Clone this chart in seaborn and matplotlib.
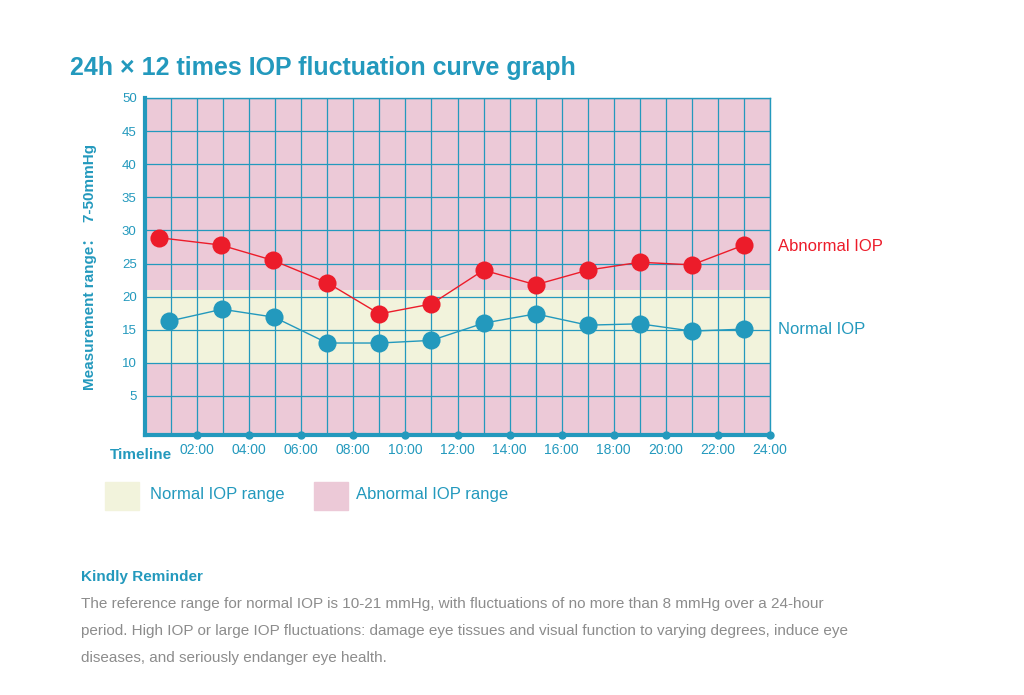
import matplotlib
matplotlib.use("Agg")
import matplotlib.pyplot as plt
import seaborn as sns
import pandas as pd
from matplotlib.patches import Rectangle

sns.set_theme(style="white")
plt.rcParams['font.family'] = ['Liberation Sans', 'Noto Sans CJK SC', 'DejaVu Sans']

abn_hours = [0.55, 2.9, 4.9, 7.0, 9.0, 11.0, 13.0, 15.0, 17.0, 19.0, 21.0, 23.0]
abn_vals = [28.9, 27.8, 25.5, 22.1, 17.4, 18.9, 24.0, 21.8, 24.0, 25.2, 24.8, 27.8]
nor_hours = [0.92, 2.96, 4.96, 7.0, 9.0, 11.0, 13.0, 15.0, 17.0, 19.0, 21.0, 23.0]
nor_vals = [16.3, 18.1, 16.9, 13.0, 13.0, 13.4, 16.0, 17.4, 15.7, 15.9, 14.8, 15.1]
tick_hours = list(range(2, 25, 2))
tick_labels = [f"{h:02d}:00" for h in tick_hours]
y_ticks = list(range(5, 51, 5))

TEAL = "#2399bd"
RED = "#ec1c2a"
PINK = "#ecc9d7"
YEL = "#f2f3dc"
GREY = "#8c8c8c"

fig = plt.figure(figsize=(10.24, 6.95), dpi=100)
ax = fig.add_axes([0.1416, 0.374, 0.6104, 0.485])
ax.set_xlim(0, 24)
ax.set_ylim(-0.9, 50)
ax.axhspan(-0.9, 10, color=PINK, lw=0, zorder=0)
ax.axhspan(10, 21, color=YEL, lw=0, zorder=0)
ax.axhspan(21, 50, color=PINK, lw=0, zorder=0)
for h in range(1, 25):
    ax.axvline(h, color=TEAL, lw=0.9, zorder=1)
for y in y_ticks:
    ax.axhline(y, color=TEAL, lw=0.9, zorder=1)

df_a = pd.DataFrame({"h": abn_hours, "v": abn_vals})
df_n = pd.DataFrame({"h": nor_hours, "v": nor_vals})
sns.lineplot(data=df_a, x="h", y="v", color=RED, lw=1, ax=ax, zorder=3)
sns.scatterplot(data=df_a, x="h", y="v", color=RED, s=170, ax=ax, zorder=4, linewidth=0)
sns.lineplot(data=df_n, x="h", y="v", color=TEAL, lw=1, ax=ax, zorder=3)
sns.scatterplot(data=df_n, x="h", y="v", color=TEAL, s=170, ax=ax, zorder=4, linewidth=0)
ax.scatter(tick_hours, [-0.9] * len(tick_hours), color=TEAL, s=25, zorder=6, clip_on=False)

ax.set_xlabel("")
ax.set_ylabel("Measurement range：  7-50mmHg", color=TEAL, fontsize=11, fontweight="bold", labelpad=18)
ax.set_yticks(y_ticks)
ax.set_yticklabels([str(y) for y in y_ticks], color=TEAL, fontsize=9.5)
ax.set_xticks(tick_hours)
ax.set_xticklabels(tick_labels, color=TEAL, fontsize=10)
ax.tick_params(axis="both", length=0, pad=6)
for s in ["top", "right"]:
    ax.spines[s].set_color(TEAL)
    ax.spines[s].set_linewidth(1)
for s in ["left", "bottom"]:
    ax.spines[s].set_color(TEAL)
    ax.spines[s].set_linewidth(3)

ax.annotate("Abnormal IOP", xy=(24.3, 27.5), xycoords="data", color=RED, fontsize=12, va="center", annotation_clip=False)
ax.annotate("Normal IOP", xy=(24.3, 15.1), xycoords="data", color=TEAL, fontsize=12, va="center", annotation_clip=False)

fig.text(110 / 1024, 1 - 455 / 695, "Timeline", color=TEAL, fontsize=11, fontweight="bold", va="center")
fig.text(70 / 1024, 1 - 68 / 695, "24h × 12 times IOP fluctuation curve graph", color=TEAL,
         fontsize=18, fontweight="bold", va="center")

fig.patches.append(Rectangle((105 / 1024, 1 - 510 / 695), 34 / 1024, 28 / 695, color=YEL, transform=fig.transFigure))
fig.patches.append(Rectangle((314 / 1024, 1 - 510 / 695), 34 / 1024, 28 / 695, color=PINK, transform=fig.transFigure))
fig.text(150 / 1024, 1 - 495 / 695, "Normal IOP range", color=TEAL, fontsize=12, va="center")
fig.text(356 / 1024, 1 - 495 / 695, "Abnormal IOP range", color=TEAL, fontsize=12, va="center")

fig.text(81 / 1024, 1 - 577 / 695, "Kindly Reminder", color=TEAL, fontsize=11, fontweight="bold", va="center")
lines = ["The reference range for normal IOP is 10-21 mmHg, with fluctuations of no more than 8 mmHg over a 24-hour",
         "period. High IOP or large IOP fluctuations: damage eye tissues and visual function to varying degrees, induce eye",
         "diseases, and seriously endanger eye health."]
for i, t in enumerate(lines):
    fig.text(81 / 1024, 1 - (604 + 27 * i) / 695, t, color=GREY, fontsize=11, va="center")

fig.savefig("out.png", dpi=100)
